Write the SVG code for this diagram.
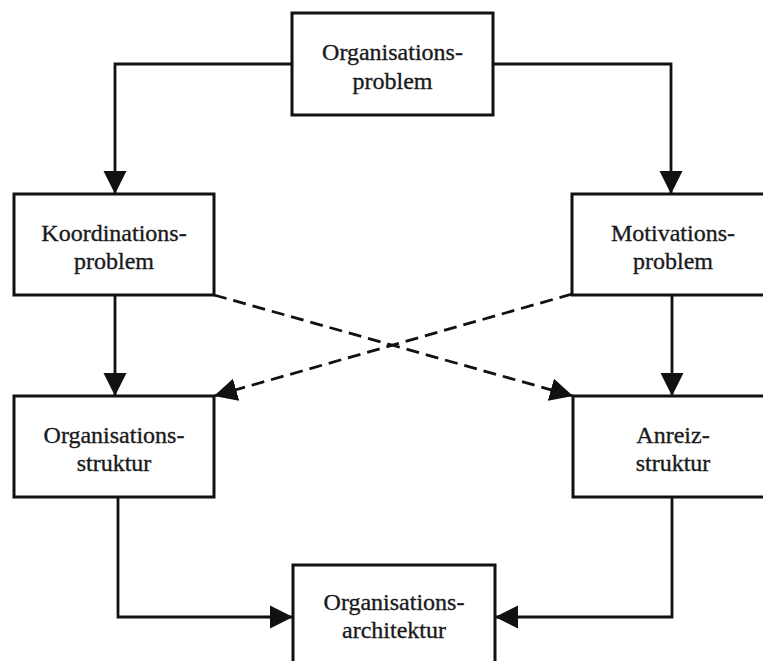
<svg xmlns="http://www.w3.org/2000/svg" width="763" height="661" viewBox="0 0 763 661">
  <style>
    .box { fill: #fff; stroke: #111; stroke-width: 3; }
    .label { font-family: "Liberation Serif", "Times New Roman", serif; font-size: 24px; fill: #1a1a1a; stroke: #1a1a1a; stroke-width: 0.35; text-anchor: middle; }
    .edge { fill: none; stroke: #111; stroke-width: 2.8; }
    .dashed { stroke-dasharray: 13 7; }
  </style>
  <defs>
    <marker id="arrow" markerUnits="userSpaceOnUse" markerWidth="26" markerHeight="26" viewBox="0 0 26 26" refX="23" refY="13" orient="auto">
      <path d="M0,1.5 L23,13 L0,24.5 Z" fill="#111"/>
    </marker>
  </defs>
  <rect width="763" height="661" fill="#fff"/>

  <!-- connectors -->
  <g id="connectors">
    <path class="edge" d="M292,64 H115 V194" marker-end="url(#arrow)"/>
    <path class="edge" d="M493,64 H671 V194" marker-end="url(#arrow)"/>
    <path class="edge" d="M115,295 V396" marker-end="url(#arrow)"/>
    <path class="edge" d="M672,295 V396" marker-end="url(#arrow)"/>
    <path class="edge dashed" d="M214,295 L573,396" marker-end="url(#arrow)"/>
    <path class="edge dashed" d="M572,294 L214,396" marker-end="url(#arrow)"/>
    <path class="edge" d="M118,497 V617 H293" marker-end="url(#arrow)"/>
    <path class="edge" d="M672,497 V617 H495" marker-end="url(#arrow)"/>
  </g>

  <g id="organisationsproblem">
    <rect class="box" x="292" y="13" width="201" height="102"/>
    <text class="label" x="392.5" y="60">Organisations-</text>
    <text class="label" x="392.5" y="89">problem</text>
  </g>

  <g id="koordinationsproblem">
    <rect class="box" x="14" y="194" width="200" height="101"/>
    <text class="label" x="114" y="241">Koordinations-</text>
    <text class="label" x="114" y="269">problem</text>
  </g>

  <g id="motivationsproblem">
    <rect class="box" x="572" y="194" width="202" height="101"/>
    <text class="label" x="673" y="241">Motivations-</text>
    <text class="label" x="673" y="269">problem</text>
  </g>

  <g id="organisationsstruktur">
    <rect class="box" x="14" y="396" width="200" height="101"/>
    <text class="label" x="114" y="443">Organisations-</text>
    <text class="label" x="114" y="471">struktur</text>
  </g>

  <g id="anreizstruktur">
    <rect class="box" x="573" y="396" width="202" height="101"/>
    <text class="label" x="673" y="443">Anreiz-</text>
    <text class="label" x="673" y="471">struktur</text>
  </g>

  <g id="organisationsarchitektur">
    <rect class="box" x="293" y="565" width="202" height="102"/>
    <text class="label" x="394" y="610">Organisations-</text>
    <text class="label" x="394" y="638">architektur</text>
  </g>
</svg>
